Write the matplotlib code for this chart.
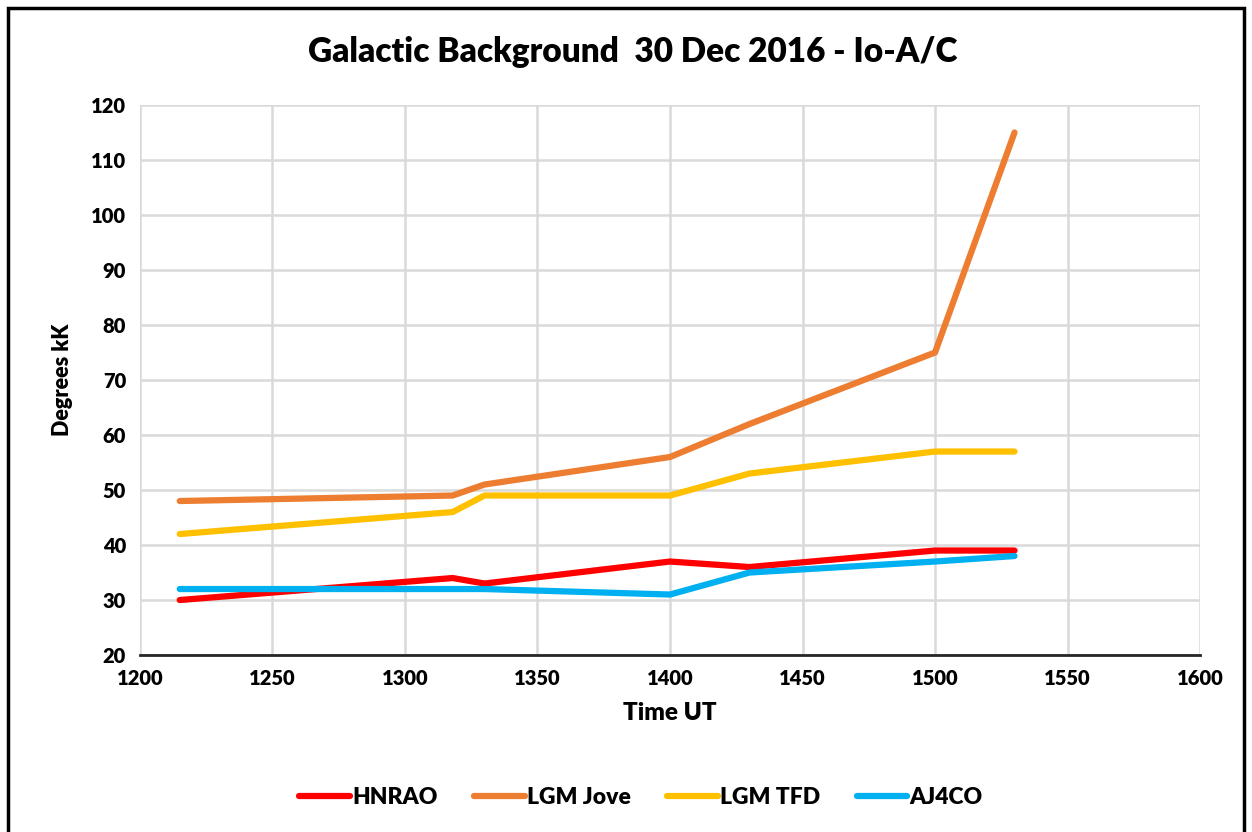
import matplotlib.pyplot as plt
from matplotlib.patches import Rectangle

# Данные графика
time_ut = [1215, 1318, 1330, 1400, 1430, 1500, 1530]
hnrao = [30, 34, 33, 37, 36, 39, 39]
lgm_jove = [48, 49, 51, 56, 62, 75, 115]
lgm_tfd = [42, 46, 49, 49, 53, 57, 57]
aj4co = [32, 32, 32, 31, 35, 37, 38]

series = [
    ("HNRAO", hnrao, "#FF0000"),
    ("LGM Jove", lgm_jove, "#ED7D31"),
    ("LGM TFD", lgm_tfd, "#FFC000"),
    ("AJ4CO", aj4co, "#00B0F0"),
]

plt.rcParams['font.family'] = ['Lato', 'DejaVu Sans']
plt.rcParams['font.weight'] = 'bold'

fig = plt.figure(figsize=(12.52, 8.32), dpi=100)
ax = fig.add_axes([0.1118, 0.2127, 0.8467, 0.6611])

for name, vals, color in series:
    ax.plot(time_ut, vals, color=color, linewidth=4.5, label=name,
            solid_capstyle='round', solid_joinstyle='round')

ax.set_xlim(1200, 1600)
ax.set_ylim(20, 120)
ax.set_xticks(range(1200, 1601, 50))
ax.set_yticks(range(20, 121, 10))
ax.grid(True, color="#D9D9D9", linewidth=1.8)
ax.set_axisbelow(True)
for side in ["left", "right", "top"]:
    ax.spines[side].set_visible(False)
ax.spines["bottom"].set_color("#262626")
ax.spines["bottom"].set_linewidth(2)
ax.tick_params(length=0, labelsize=14.5, pad=10)
for lbl in ax.get_xticklabels() + ax.get_yticklabels():
    lbl.set_fontweight('heavy')

ax.set_xlabel("Time UT", fontsize=17.5, fontweight='heavy', labelpad=10)
ax.set_ylabel("Degrees kK", fontsize=15.5, fontweight='heavy', labelpad=13)

fig.text(0.505, 0.937, "Galactic Background  30 Dec 2016 - Io-A/C",
         ha='center', va='center', fontsize=24, fontweight='heavy')

leg = fig.legend(loc='center', bbox_to_anchor=(0.512, 0.042), ncol=4,
                 frameon=False, fontsize=16.5, handlelength=2.2,
                 handletextpad=0.1, columnspacing=1.6)
for t in leg.get_texts():
    t.set_fontweight('heavy')

# Рамка вокруг всей картинки
fig.patches.append(Rectangle((0.006, -0.01), 0.988, 1.0, transform=fig.transFigure,
                             fill=False, edgecolor='black', linewidth=2.5))

fig.savefig("out.png", dpi=100)
